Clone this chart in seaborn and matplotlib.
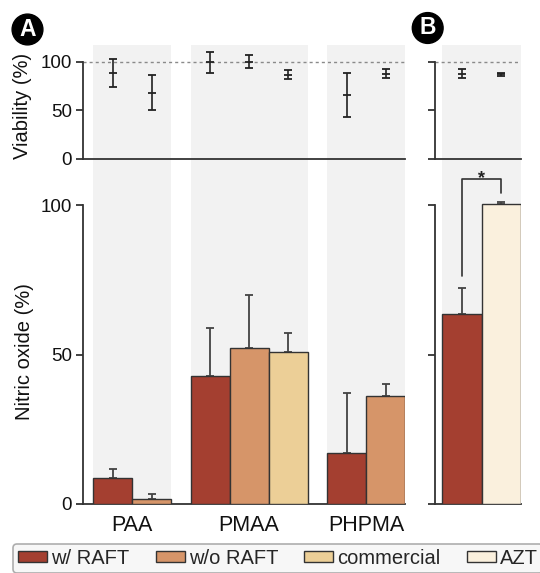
import numpy as np
import pandas as pd
import matplotlib
matplotlib.use("Agg")
import matplotlib.pyplot as plt
import seaborn as sns
from matplotlib.patches import Patch

# ---------------- data ----------------
polymers = ["PAA", "PMAA", "PHPMA"]
a_group = ["PAA", "PAA", "PMAA", "PMAA", "PMAA", "PHPMA", "PHPMA"]
a_treat = ["w/ RAFT", "w/o RAFT", "w/ RAFT", "w/o RAFT", "commercial", "w/ RAFT", "w/o RAFT"]
a_no_mean = [8.8, 1.6, 43.0, 52.3, 51.0, 17.1, 36.3]
a_no_err = [2.8, 1.9, 16.1, 17.8, 6.3, 20.0, 3.8]
a_via_mean = [89.0, 68.0, 99.5, 100.5, 87.0, 66.0, 88.0]
a_via_err = [14.5, 18.0, 10.5, 6.7, 4.6, 23.0, 4.4]

b_group = ["B", "B"]
b_treat = ["w/ RAFT", "AZT"]
b_no_mean = [63.7, 100.3]
b_no_err = [8.8, 0.8]
b_via_mean = [88.0, 87.3]
b_via_err = [4.5, 1.5]

legend_labels = ["w/ RAFT", "w/o RAFT", "commercial", "AZT"]
palette = {"w/ RAFT": "#A43F30", "w/o RAFT": "#D69569",
           "commercial": "#ECCF97", "AZT": "#FAF0DD"}


def build(groups, treats, no_m, no_e, v_m, v_e, order):
    df = pd.DataFrame({"group": groups, "treatment": treats, "no": no_m,
                       "no_err": no_e, "via": v_m, "via_err": v_e})
    gidx = df["group"].map({g: i for i, g in enumerate(order)})
    k = df.groupby("group").cumcount()
    n = df.groupby("group")["treatment"].transform("count")
    df["pos"] = 3 * gidx + (k - (n - 1) / 2)
    return df


dfA = build(a_group, a_treat, a_no_mean, a_no_err, a_via_mean, a_via_err, polymers)
dfB = build(b_group, b_treat, b_no_mean, b_no_err, b_via_mean, b_via_err, ["B"])

# ---------------- style ----------------
sns.set_theme(style="white")
plt.rcParams["font.family"] = ["Liberation Sans", "DejaVu Sans"]
SPINE = "#333333"
SHADE = "#F2F2F2"

W, H = 540, 573
fig = plt.figure(figsize=(W / 100, H / 100), dpi=100)


def box(x0, y0, x1, y1):
    return [x0 / W, 1 - y1 / H, (x1 - x0) / W, (y1 - y0) / H]


axAb = fig.add_axes(box(83, 158.5, 405, 504))
axBb = fig.add_axes(box(435, 158.5, 521, 504))
axAt = fig.add_axes(box(83, 45, 405, 158.5))
axBt = fig.add_axes(box(435, 45, 521, 158.5))
axAt.set_zorder(3)
axBt.set_zorder(3)
axAb.set_zorder(2)
axBb.set_zorder(2)

xl = {"A": (-1.26, 7.0), "B": (-1.18, 1.0)}

for df, at, ab, key in [(dfA, axAt, axAb, "A"), (dfB, axBt, axBb, "B")]:
    # background shading per group
    ext = df.groupby("group")["pos"].agg(["min", "max"])
    for ax in (at, ab):
        for _, r in ext.iterrows():
            ax.axvspan(r["min"] - 0.5, r["max"] + 0.5, color=SHADE, lw=0, zorder=0)

    # bars
    sns.barplot(data=df, x="pos", y="no", hue="treatment", palette=palette,
                native_scale=True, width=1, dodge=False, errorbar=None,
                edgecolor=SPINE, linewidth=1.0, legend=False, ax=ab, zorder=3,
                saturation=1)
    ab.errorbar(df["pos"], df["no"], yerr=[np.zeros(len(df)), df["no_err"]],
                fmt="none", ecolor="#444444", elinewidth=1.3, capsize=3.2,
                capthick=1.3, zorder=2, clip_on=False)

    # viability
    at.errorbar(df["pos"], df["via"], yerr=df["via_err"], fmt="_", ms=6,
                mew=1.3, color="#222222", ecolor="#222222", elinewidth=1.2,
                capsize=3.2, capthick=1.2, zorder=3, clip_on=False)
    at.axhline(100, color="#8a8a8a", lw=1.0, ls=(0, (2.2, 2.2)), zorder=1)

    at.set_ylim(0, 117.6)
    ab.set_ylim(0, 115.7)
    for ax in (at, ab):
        ax.set_xlim(*xl[key])
        ax.set_facecolor("none")
        ax.spines["top"].set_visible(False)
        ax.spines["right"].set_visible(False)
        ax.spines["left"].set_bounds(0, 100)
        for s in ("left", "bottom"):
            ax.spines[s].set_color(SPINE)
            ax.spines[s].set_linewidth(1.3)
        ax.set_yticks([0, 50, 100])
        ax.tick_params(axis="y", length=5, width=1.3, color=SPINE, pad=3,
                       labelsize=13.5, labelcolor="#111111", left=True)
        ax.set_xlabel("")
        ax.set_ylabel("")
    at.set_xticks([])

    if key == "A":
        axAb.set_xticks([3 * i for i in range(len(polymers))])
        axAb.set_xticklabels(polymers)
        axAb.tick_params(axis="x", length=0, pad=8, labelsize=15.5, labelcolor="#111111")
    else:
        ab.set_xticks([])
        at.set_yticklabels([])
        ab.set_yticklabels([])

# significance bracket in B
axBb.plot([-0.5, -0.5, 0.5, 0.5], [76.5, 108.8, 108.8, 104.1], color=SPINE,
          lw=1.2, clip_on=False, zorder=4)
axBb.text(0, 107.6, "*", ha="center", va="baseline", fontsize=13,
          fontweight="bold", color="#222222")

# axis labels
fig.text(23 / W, 1 - 106 / H, "Viability (%)", rotation=90, ha="center",
         va="center", fontsize=14.5, color="#111111")
fig.text(24 / W, 1 - 352 / H, "Nitric oxide (%)", rotation=90, ha="center",
         va="center", fontsize=14.5, color="#111111")

# panel letters
for x, y, t in [(27.5, 29.5, "A"), (427.7, 28, "B")]:
    fig.text(x / W, 1 - y / H, t, ha="center", va="center", fontsize=16.5,
             color="white", fontweight="bold",
             bbox=dict(boxstyle="circle,pad=0.17", fc="black", ec="black"))

# legend
handles = [Patch(facecolor=palette[l], edgecolor=SPINE, linewidth=1.0, label=l)
           for l in legend_labels]
leg = fig.legend(handles=handles, loc="upper left", ncol=4,
                 bbox_to_anchor=(13 / W, 1 - 544 / H, 530 / W, 0.0),
                 mode="expand", fontsize=14.5, frameon=True, fancybox=True,
                 handlelength=1.45, handleheight=0.45, handletextpad=0.2,
                 borderpad=0.25, borderaxespad=0, columnspacing=0.8)
leg.get_frame().set_edgecolor("#9a9a9a")
leg.get_frame().set_facecolor("#F6F6F6")
leg.get_frame().set_linewidth(1.2)

fig.savefig("out.png", dpi=100)
